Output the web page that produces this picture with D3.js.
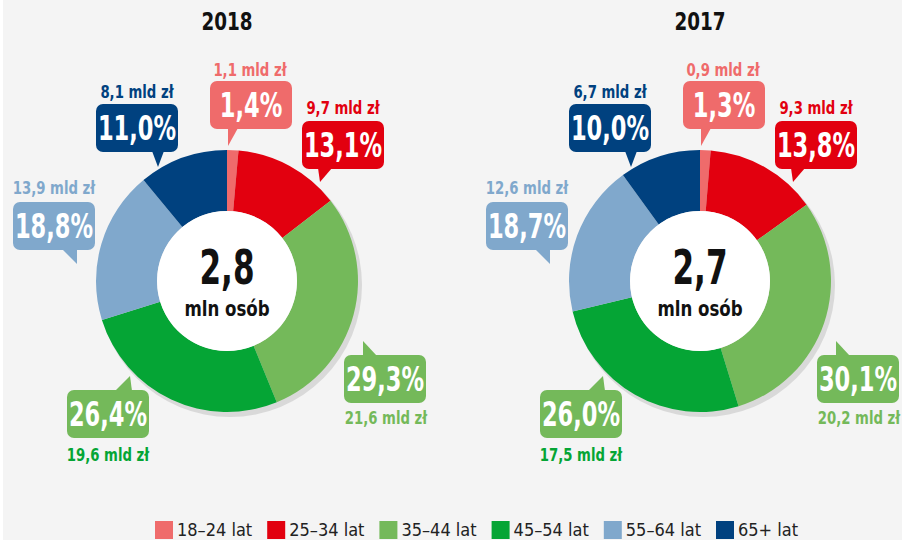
<!DOCTYPE html>
<html>
<head>
<meta charset="utf-8">
<script src="https://cdn.jsdelivr.net/npm/d3@7"></script>
<style>
  body { margin: 0; background: #fff; }
  svg text { font-family: "DejaVu Sans Condensed", "DejaVu Sans", sans-serif; font-stretch: condensed; }
</style>
</head>
<body>
<svg id="chart" width="902" height="540"></svg>
<script>
var ageGroups = ["18–24 lat", "25–34 lat", "35–44 lat", "45–54 lat", "55–64 lat", "65+ lat"];
var years = ["2018", "2017"];
var totals = ["2,8", "2,7"];
var share2018 = [1.4, 13.1, 29.3, 26.4, 18.8, 11.0];
var share2017 = [1.3, 13.8, 30.1, 26.0, 18.7, 10.0];
var amount2018 = [1.1, 9.7, 21.6, 19.6, 13.9, 8.1];
var amount2017 = [0.9, 9.3, 20.2, 17.5, 12.6, 6.7];

var colors = ["#ef6b6b", "#e2000f", "#74b95a", "#05a535", "#80a8cc", "#00417f"];
var boxColors = ["#ef6b6b", "#e2000f", "#74b95a", "#74b95a", "#80a8cc", "#00417f"];

// bubble layout relative to pie centre: box x/y, tip, pointer base, amount text pos
var bubbles = [
  {bx: -17, by: -200, tip: [1, -135], base: [1, 11], side: "b", ax: 23, ay: -211},
  {bx: 75, by: -160, tip: [93, -99], base: [91, 105], side: "b", ax: 116, ay: -173},
  {bx: 117, by: 74, tip: [136, 60], base: [136, 150], side: "t", ax: 159, ay: 137},
  {bx: -160, by: 109, tip: [-97, 95], base: [-112, -95], side: "t", ax: -119, ay: 174},
  {bx: -214, by: -79, tip: [-150, -17], base: [-165, -150], side: "b", ax: -173, ay: -93},
  {bx: -131, by: -177, tip: [-69, -114], base: [-75, -63], side: "b", ax: -90, ay: -189}
];
var boxW = 82, boxH = 48;

var svg = d3.select("#chart");
var width = +svg.attr("width"), height = +svg.attr("height");

svg.append("rect").attr("x", 3).attr("y", 0).attr("width", width - 3).attr("height", height).attr("fill", "#f4f4f4");

var pie = d3.pie().sort(null).value(function(d) { return d; });
var arc = d3.arc().innerRadius(70).outerRadius(131);

var fmt = function(v) { return d3.format(".1f")(v).replace(".", ","); };

// narrow bold text, squeezed horizontally
function label(sel, x, y, size, sx, fill, txt) {
  return sel.append("text")
    .attr("transform", "translate(" + x + "," + y + ") scale(" + sx + ",1)")
    .attr("text-anchor", "middle").attr("font-size", size).attr("font-weight", "bold")
    .attr("fill", fill).text(txt);
}

var centers = [[227, 281], [700, 281]];
var shares = [share2018, share2017];
var amounts = [amount2018, amount2017];

years.forEach(function(year, yi) {
  var g = svg.append("g").attr("transform", "translate(" + centers[yi][0] + "," + centers[yi][1] + ")");

  label(g, 0, -251, 24, 0.85, "#111", year);

  g.append("circle").attr("cx", 3).attr("cy", 4).attr("r", 132).attr("fill", "#d9d9d9");

  g.selectAll(".slice").data(pie(shares[yi])).enter().append("path")
    .attr("class", "slice")
    .attr("d", arc)
    .attr("fill", function(d, i) { return colors[i]; });

  g.append("circle").attr("r", 70).attr("fill", "#fff");
  label(g, 0, 3, 48, 0.72, "#111", totals[yi]);
  label(g, 0, 35, 21, 0.88, "#111", "mln osób");

  bubbles.forEach(function(b, i) {
    var edgeY = b.side === "b" ? b.by + boxH - 1 : b.by + 1;
    g.append("path")
      .attr("d", "M" + b.base[0] + "," + edgeY + "L" + b.tip[0] + "," + b.tip[1] + "L" + b.base[1] + "," + edgeY + "Z")
      .attr("fill", boxColors[i]);
    g.append("rect").attr("x", b.bx).attr("y", b.by).attr("width", boxW).attr("height", boxH)
      .attr("rx", 7).attr("fill", boxColors[i]);
    label(g, b.bx + boxW / 2, b.by + boxH / 2 + 12, 33, 0.76, "#fff", fmt(shares[yi][i]) + "%");
    label(g, b.ax, b.ay + 6, 18, 0.82, colors[i], fmt(amounts[yi][i]) + " mld zł");
  });
});

var legend = svg.append("g").attr("transform", "translate(155,521)");
var item = legend.selectAll(".item").data(ageGroups).enter().append("g")
  .attr("class", "item")
  .attr("transform", function(d, i) { return "translate(" + (i * 112.2) + ",0)"; });
item.append("rect").attr("width", 18).attr("height", 18).attr("fill", function(d, i) { return colors[i]; });
item.append("text").attr("x", 22).attr("y", 15).attr("font-size", 18).attr("fill", "#222").text(function(d) { return d; });
</script>
</body>
</html>
